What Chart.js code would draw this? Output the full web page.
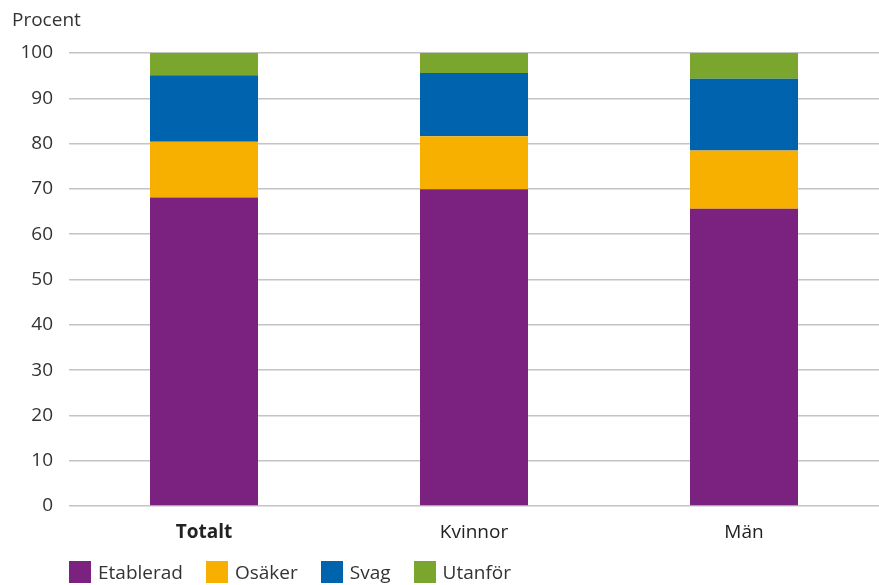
<!DOCTYPE html>
<html>
<head>
<meta charset="utf-8">
<script src="https://cdn.jsdelivr.net/npm/chart.js@4/dist/chart.umd.min.js"></script>
<style>
  body { margin: 0; background: #fff; font-family: "Open Sans", sans-serif; }
  #wrap { position: relative; width: 879px; height: 585px; }
  #unit { position: absolute; left: 12px; top: 6px; font-size: 19px; color: #333; }
  #legend { position: absolute; left: 69px; top: 559px; display: flex; font-size: 19px; color: #333; }
  #legend div { display: flex; align-items: center; margin-right: 23px; }
  #legend span.box { width: 22px; height: 22px; margin-right: 7px; display: inline-block; }
</style>
</head>
<body>
<div id="wrap">
  <canvas id="semesterChart" width="879" height="585"></canvas>
  <div id="unit">Procent</div>
  <div id="legend"></div>
</div>
<script>
const categories = ['Totalt', 'Kvinnor', 'Män'];
const etablerad = [68.1, 69.9, 65.6];
const osaker = [12.3, 11.7, 12.9];
const svag = [14.7, 14.0, 15.8];
const utanfor = [4.9, 4.4, 5.7];
const seriesNames = ['Etablerad', 'Osäker', 'Svag', 'Utanför'];
const colors = ['#7b2180', '#f8b000', '#0063ae', '#7aa62e'];

const allSeries = [etablerad, osaker, svag, utanfor];
const ctx = document.getElementById("semesterChart");
let chart = new Chart(ctx, {
    type: 'bar',
    data: {
        labels: categories,
        datasets: allSeries.map((d, i) => ({
            label: seriesNames[i],
            data: d,
            backgroundColor: colors[i],
            borderWidth: 0,
            barPercentage: 0.4,
            categoryPercentage: 1.0
        }))
    },
    options: {
        responsive: false,
        animation: false,
        layout: { padding: { top: 53, right: 0, bottom: 40, left: 0 } },
        plugins: {
            legend: { display: false },
            tooltip: { enabled: false }
        },
        scales: {
            x: {
                stacked: true,
                grid: { display: false },
                border: { display: false },
                ticks: {
                    color: '#222',
                    padding: 7,
                    font: c => ({ family: 'Open Sans', size: 19, weight: c.index === 0 ? 'bold' : 'normal' })
                },
                afterFit: s => { s.height = 39; }
            },
            y: {
                stacked: true,
                min: 0,
                max: 100,
                ticks: {
                    stepSize: 10,
                    color: '#333',
                    padding: 16,
                    font: { family: 'Open Sans', size: 19 }
                },
                grid: { color: '#c4c4c4', lineWidth: 1.5, drawTicks: false },
                border: { display: false },
                afterFit: s => { s.width = 69; }
            }
        }
    }
});

// legend in html
const leg = document.getElementById('legend');
seriesNames.forEach((n, i) => {
    const d = document.createElement('div');
    d.innerHTML = '<span class="box" style="background:' + colors[i] + '"></span>' + n;
    leg.appendChild(d);
});
</script>
</body>
</html>
